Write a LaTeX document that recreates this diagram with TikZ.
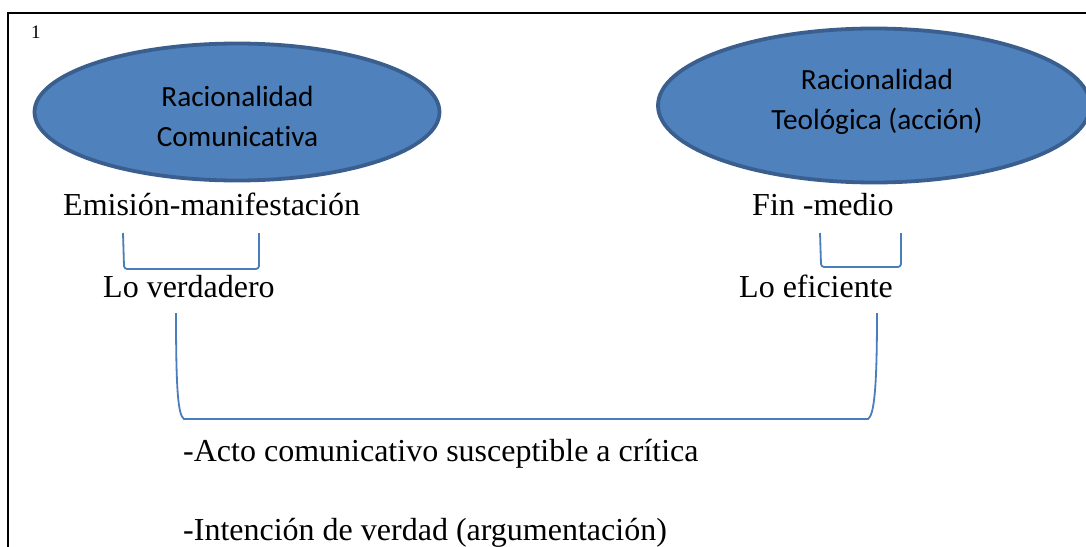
\documentclass[tikz,border=0pt]{standalone}
\usepackage{fontspec}
\setmainfont{Liberation Serif}
\newfontfamily\calib[Ligatures=NoCommon]{Carlito}
\usetikzlibrary{shapes.geometric}
\definecolor{blobfill}{HTML}{4F81BD}
\definecolor{blobline}{HTML}{3A5F8F}
\definecolor{brk}{HTML}{4A7EBB}
\tikzset{
  blob/.style={ellipse, fill=blobfill, draw=blobline, line width=3.8pt, inner sep=0pt},
  ovaltext/.style={font=\calib\fontsize{29.3}{40}\selectfont, align=center, inner sep=0pt, text=black},
  serif/.style={font=\fontsize{32}{38}\selectfont, inner sep=0pt, anchor=base west},
  brack/.style={draw=brk, line width=1.8pt}
}
\begin{document}
\begin{tikzpicture}[x=1pt,y=-1pt]
\useasboundingbox (0,0) rectangle (1086,546);
\clip (0,0) rectangle (1086,546);
\fill[white] (0,0) rectangle (1086,546);
\draw[line width=2.2pt] (8,560) -- (8,13) -- (1100,13);
\node[inner sep=0pt, anchor=base west, font=\fontsize{19}{22}\selectfont] (num) at (31,38) {1};
% ellipses
\node[blob, minimum width=405, minimum height=137] (c1) at (237,112) {};
\node[ovaltext] (t1) at (237.5,116) {Racionalidad\\Comunicativa};
\node[blob, minimum width=432, minimum height=154] (c2) at (874,105.5) {};
\node[ovaltext] (t2) at (877,101.5) {Racionalidad\\Teológica (acción)};
% texts
\node[serif] (em) at (63,215) {Emisión-manifestación};
\node[serif] (fm) at (752,215) {Fin -medio};
\node[serif] (lv) at (103,297) {Lo verdadero};
\node[serif] (le) at (739,297) {Lo eficiente};
\node[serif] (a1) at (183,461) {-Acto comunicativo susceptible a crítica};
\node[serif] (a2) at (183,540) {-Intención de verdad (argumentación)};
% bracket coordinates
\coordinate (b1a) at (123,233); \coordinate (b1b) at (259,233);
\coordinate (b2a) at (820,233); \coordinate (b2b) at (901,233);
\coordinate (b3a) at (176,313); \coordinate (b3b) at (877,313);
\draw[brack] (b1a) -- ++(1,33) to[out=-80,in=180] ++(3,3) -- ++(129,0) to[out=0,in=-100] ++(3,-3) -- (b1b);
\draw[brack] (b2a) -- ++(1,31) to[out=-80,in=180] ++(3,3) -- ++(74,0) to[out=0,in=-100] ++(3,-3) -- (b2b);
\draw[brack] (b3a) .. controls (176,390) and (178,415) .. (184,419) -- (868,419) .. controls (874,415) and (877,390) .. (b3b);
\end{tikzpicture}
\end{document}
